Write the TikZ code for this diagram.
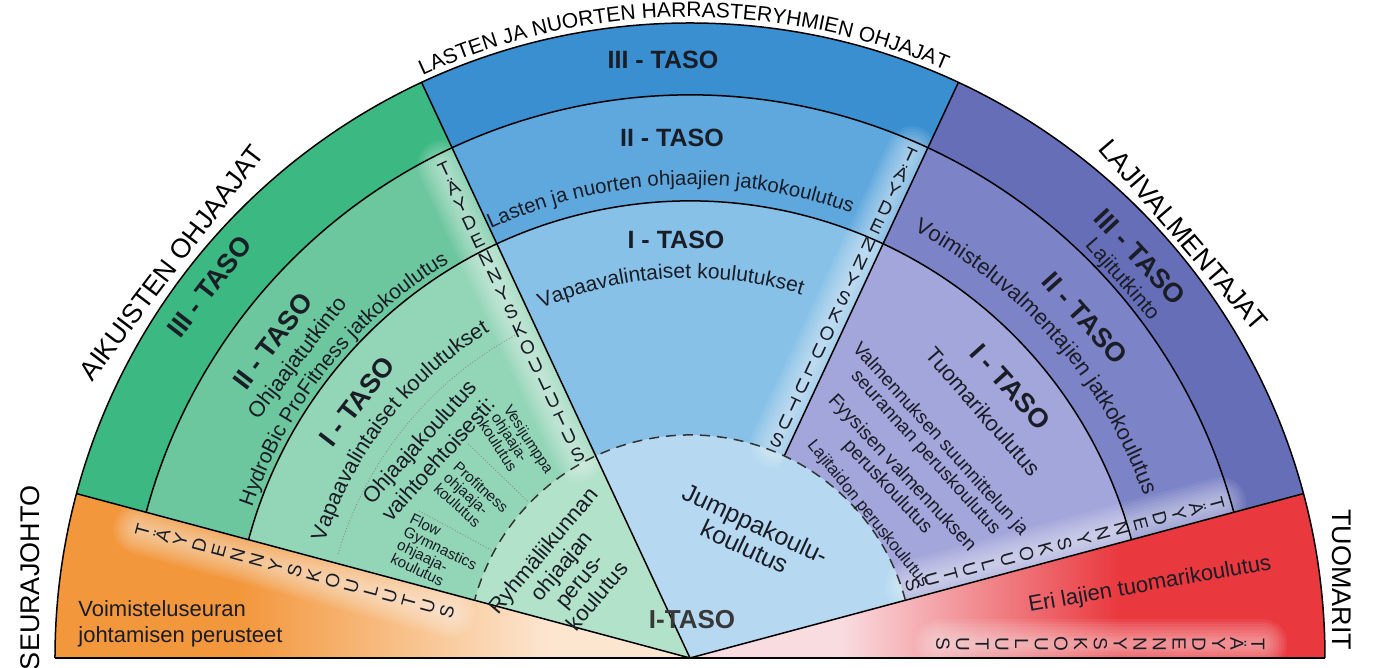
\documentclass[tikz,border=0pt]{standalone}
\usepackage{fontspec}
\setmainfont{Liberation Sans}
\usetikzlibrary{decorations.text}

\definecolor{ink}{RGB}{26,28,38}
\definecolor{orD}{RGB}{243,151,60}
\definecolor{orL}{RGB}{252,230,208}
\definecolor{gIII}{RGB}{60,184,130}
\definecolor{gII}{RGB}{108,198,158}
\definecolor{gI}{RGB}{146,213,183}
\definecolor{gR}{RGB}{178,226,202}
\definecolor{bIII}{RGB}{58,143,208}
\definecolor{bII}{RGB}{94,168,222}
\definecolor{bI}{RGB}{136,193,231}
\definecolor{bJ}{RGB}{182,217,241}
\definecolor{pIII}{RGB}{102,110,184}
\definecolor{pII}{RGB}{124,131,199}
\definecolor{pI}{RGB}{162,166,218}
\definecolor{rdD}{RGB}{233,56,62}
\definecolor{rdL}{RGB}{249,220,224}

\tikzset{
  taso/.style={font=\fontsize{13.5}{15}\selectfont\bfseries, text=ink, inner sep=0pt},
  group/.style={font=\fontsize{13.5}{16}\selectfont, inner sep=0pt},
  lbl/.style={font=\fontsize{11}{12.5}\selectfont, text=ink, inner sep=0pt, align=center},
  minor/.style={font=\fontsize{7.6}{7.3}\selectfont, text=ink, inner sep=0pt, align=left},
  stackch/.style={font=\fontsize{9.5}{10}\selectfont, text=ink, inner sep=0pt},
  rim/.style={line width=0.75pt, draw=black},
  dots/.style={densely dotted, line width=0.45pt, draw=black!45},
}

\begin{document}
\begin{tikzpicture}[x=0.5pt,y=0.5pt]
\useasboundingbox (-690,-10) rectangle (683,658);

% orange sector
\begin{scope}
  \clip (0,0) -- (165:635) arc[start angle=165,end angle=180,radius=635] -- cycle;
  \fill[orD] (-640,0) rectangle (-450,170);
  \shade[left color=orD, right color=orL] (-450,0) rectangle (-140,170);
  \fill[orL] (-140,0) rectangle (0,170);
\end{scope}
% green, blue, purple rings
\foreach \r/\c in {635/gIII,563/gII,457/gI,223/gR}
  \fill[\c] (0,0) -- (115:\r) arc[start angle=115,end angle=165,radius=\r] -- cycle;
\foreach \r/\c in {635/bIII,563/bII,457/bI}
  \fill[\c] (0,0) -- (65:\r) arc[start angle=65,end angle=115,radius=\r] -- cycle;
\foreach \r/\c in {635/pIII,563/pII,457/pI}
  \fill[\c] (0,0) -- (15:\r) arc[start angle=15,end angle=65,radius=\r] -- cycle;
\fill[bJ] (0,0) -- (15:223) arc[start angle=15,end angle=115,radius=223] -- cycle;
% red sector
\begin{scope}
  \clip (0,0) -- (0:635) arc[start angle=0,end angle=15,radius=635] -- cycle;
  \fill[rdL] (0,0) rectangle (150,170);
  \shade[left color=rdL, right color=rdD] (150,0) rectangle (430,170);
  \fill[rdD] (430,0) rectangle (640,170);
\end{scope}

% soft glow behind the letter stacks
\foreach \th/\rr/\dd/\ce in {165/562/18/180, 115/547/16/135, 65/549/13/85, 15/549/13/35, 0/568/14/15}{
  \begin{scope}
    \clip (0,0) -- (\th:640) arc[start angle=\th,end angle=\ce,radius=640] -- cycle;
    \begin{scope}[rotate=\th]
      \foreach \k in {1,...,9}
        \draw[white, opacity=.065, line width=2.8pt*\k, line cap=round] (\rr+4,\dd) -- (\rr-318,\dd);
    \end{scope}
  \end{scope}
}

% borders
\draw[rim] (0:635) arc[start angle=0,end angle=180,radius=635];
\draw[rim] (15:563) arc[start angle=15,end angle=165,radius=563];
\draw[rim] (15:457) arc[start angle=15,end angle=165,radius=457];
\foreach \a in {15,115,165} \draw[rim] (0,0) -- (\a:635);
\draw[rim] (65:223) -- (65:635);
\draw[rim, draw=black!80, dash pattern=on 5pt off 3.5pt] (15:223) arc[start angle=15,end angle=165,radius=223];
\draw[dots] (163.5:367) arc[start angle=163.5,end angle=118,radius=367];
\foreach \a in {136,151.5} \draw[dots] (\a:226) -- (\a:308);
\draw[line width=1.3pt] (180:635) -- (0:635);

% letter stacks
\foreach \th/\rr/\dd/\nm in {165/562/18/or, 115/547/16/gr, 65/549/13/bl, 15/549/13/pu, 0/568/14/rd}{
  \begin{scope}[rotate=\th]
    \foreach \ch [count=\i] in {T,Ä,Y,D,E,N,N,Y,S,K,O,U,L,U,T,U,S}
      \node[stackch, rotate=\th-90] (\nm\i) at ({\rr-19.7*(\i-1)},\dd) {\ch};
  \end{scope}
}

% group names
\path[decorate, decoration={text along path, text align=center,
  text={|\fontsize{10.5}{12}\selectfont|LASTEN JA NUORTEN HARRASTERYHMIEN OHJAJAT}}]
  (120:641) arc[start angle=120,end angle=61.2,radius=641];
\node[group, rotate=52.7] (aikuiset) at (142.7:652) {AIKUISTEN OHJAAJAT};
\node[group, rotate=-49.4] (lajival) at (40.6:650) {LAJIVALMENTAJAT};
\node[group, rotate=90] (seura) at (-660,80) {SEURAJOHTO};
\node[group, rotate=-90] (tuomarit) at (652,78) {TUOMARIT};

% orange
\node[lbl, anchor=base west] (seura1) at (-612,41) {Voimisteluseuran};
\node[lbl, anchor=base west] (seura2) at (-612,15) {johtamisen perusteet};

% green
\node[taso, rotate=52.3] (g3) at (142.3:607) {III - TASO};
\node[taso, rotate=52.8] (g2) at (142.8:524) {II - TASO};
\node[lbl, rotate=52.6] (g2a) at (142.6:493) {Ohjaajatutkinto};
\path[decorate, decoration={text along path, text align=center,
  text={|\color{ink}\fontsize{10.5}{12}\selectfont|HydroBic}}]
  (165:463) arc[start angle=165,end angle=146.4,radius=463];
\path[decorate, decoration={text along path, text align=center,
  text={|\color{ink}\fontsize{10.5}{12}\selectfont|ProFitness jatkokoulutus}}]
  (160:463) arc[start angle=160,end angle=111,radius=463];
\node[taso, rotate=52.4] (g1) at (142.4:420) {I - TASO};
\path[decorate, decoration={text along path, text align=center,
  text={|\color{ink}\fontsize{10.8}{12}\selectfont|Vapaavalintaiset koulutukset}}]
  (170:383) arc[start angle=170,end angle=114,radius=383];
\node[lbl, rotate=48, font=\fontsize{11}{12.9}\selectfont] (g1b) at (141.5:334) {Ohjaajakoulutus\\vaihtoehtoisesti:};
\node[minor, rotate=-57] (vesi) at (129.4:273) {Vesijumppa\\ohjaaja-\\koulutus};
\node[minor, rotate=-42] (profit) at (143.8:271) {Profitness\\ohjaaja-\\koulutus};
\node[minor, rotate=-26] (flow) at (157.8:273) {Flow\\Gymnastics\\ohjaaja-\\koulutus};
\node[lbl, rotate=50, font=\fontsize{11}{11.8}\selectfont] (ryhma) at (144.7:147) {Ryhmäliikunnan\\ohjaajan\\perus-\\koulutus};

% blue
\node[taso, font=\fontsize{12.5}{14}\selectfont\bfseries] (b3) at (-27,598) {III - TASO};
\node[taso, font=\fontsize{12.5}{14}\selectfont\bfseries] (b2) at (-18,520) {II - TASO};
\path[decorate, decoration={text along path, text align=center,
  text={|\color{ink}\fontsize{10.2}{12}\selectfont|Lasten ja nuorten ohjaajien jatkokoulutus}}]
  (117:473) arc[start angle=117,end angle=68,radius=473];
\node[taso, font=\fontsize{12.5}{14}\selectfont\bfseries] (b1) at (-14,418) {I - TASO};
\path[decorate, decoration={text along path, text align=center,
  text={|\color{ink}\fontsize{10.5}{12}\selectfont|Vapaavalintaiset koulutukset}}]
  (123:380) arc[start angle=123,end angle=63,radius=380];
\node[lbl, rotate=-25, font=\fontsize{12.5}{11.5}\selectfont] (jumppa) at (60,123) {Jumppakoulu-\\koulutus};
\node[taso, font=\fontsize{13}{15}\selectfont\bfseries, text=black!78] (itaso) at (2,38) {I-TASO};

% purple
\node[taso, rotate=-47] (p3) at (41.7:603) {III - TASO};
\node[lbl, rotate=-48.8, font=\fontsize{10.5}{12}\selectfont] (p3a) at (41.2:574) {Lajitutkinto};
\node[taso, rotate=-48] (p2) at (40.7:521) {II - TASO};
\path[decorate, decoration={text along path, text align=center,
  text={|\color{ink}\fontsize{11}{12}\selectfont|Voimisteluvalmentajien jatkokoulutus}}]
  (70:482) arc[start angle=70,end angle=12,radius=482];
\node[taso, rotate=-48] (p1) at (40.2:420) {I - TASO};
\node[lbl, rotate=-49] (p1a) at (40:383) {Tuomarikoulutus};
\node[lbl, rotate=-48, font=\fontsize{9.5}{9.8}\selectfont] (p1b) at (41.1:322) {Valmennuksen suunnittelun ja\\seurannan peruskoulutus};
\node[lbl, rotate=-47, font=\fontsize{9.7}{8.8}\selectfont] (p1c) at (41:271) {Fyysisen valmennuksen\\peruskoulutus};
\node[lbl, rotate=-51, font=\fontsize{8.5}{10}\selectfont] (p1d) at (39:229) {Lajitaidon peruskoulutus};

% red
\node[lbl, rotate=10] (eri) at (460,73) {Eri lajien tuomarikoulutus};
\end{tikzpicture}
\end{document}
